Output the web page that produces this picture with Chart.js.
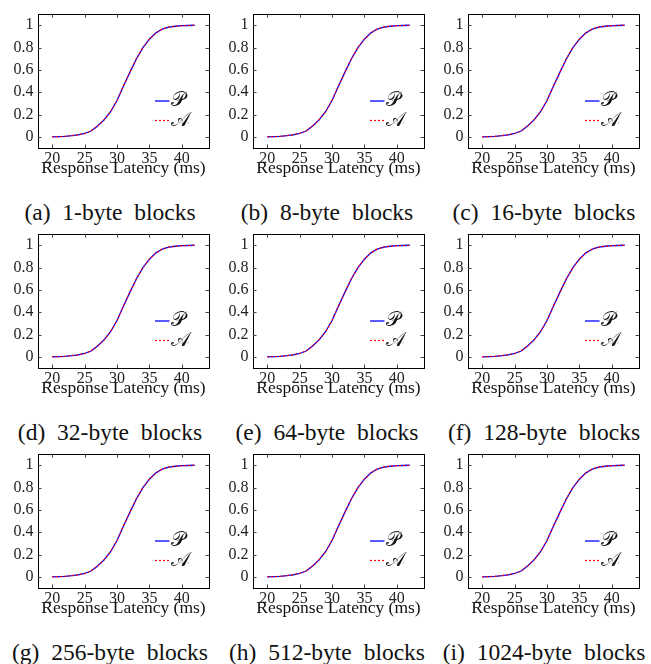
<!DOCTYPE html>
<html>
<head>
<meta charset="utf-8">
<script src="https://cdn.jsdelivr.net/npm/chart.js@4/dist/chart.umd.min.js"></script>
<style>
  html, body { margin: 0; padding: 0; background: #ffffff; }
  #page { position: relative; width: 651px; height: 664px; overflow: hidden; background: #fff; }
  canvas { position: absolute; }
  .cap { position: absolute; width: 220px; text-align: center; font-family: "Liberation Serif", "DejaVu Serif", serif;
         font-size: 23.5px; line-height: 23px; word-spacing: 6px; color: #111; white-space: nowrap; }
</style>
</head>
<body>
<div id="page"></div>
<script>
// ---- data ----
const latencyMs = [20, 21, 22, 23, 24, 25, 26, 27, 28, 29, 30, 31, 32, 33, 34, 35, 36, 37, 38, 39, 40, 41, 42];
const cdfP = [0.000, 0.002, 0.005, 0.010, 0.018, 0.030, 0.052, 0.097, 0.152, 0.225, 0.325, 0.455, 0.580, 0.700, 0.800, 0.875, 0.932, 0.966, 0.984, 0.991, 0.996, 0.998, 1.000];
const cdfA = [0.000, 0.002, 0.005, 0.010, 0.018, 0.030, 0.053, 0.097, 0.153, 0.225, 0.326, 0.455, 0.581, 0.700, 0.800, 0.876, 0.932, 0.966, 0.984, 0.991, 0.996, 0.998, 1.000];
const panelLetters = ['a', 'b', 'c', 'd', 'e', 'f', 'g', 'h', 'i'];
const blockSizes = [1, 8, 16, 32, 64, 128, 256, 512, 1024];
const seriesLabels = ['\u{1D4AB}', '\u{1D49C}'];
const xTickValues = [20, 25, 30, 35, 40];
const yTickValues = [0, 0.2, 0.4, 0.6, 0.8, 1];
const yTickLabels = ['0', '0.2', '0.4', '0.6', '0.8', '1'];
const xTitle = 'Response Latency (ms)';

// ---- styling / layout ----
const SERIF = '"Liberation Serif", "DejaVu Serif", serif';
const COL_STEP = 215, ROW_STEP = 220;
const CAN_W = 215, CAN_H = 185;

const framePlugin = {
  id: 'frameTicks',
  afterDraw(chart) {
    const { ctx, chartArea: a, scales } = chart;
    ctx.save();
    ctx.strokeStyle = '#000';
    ctx.lineWidth = 1;
    ctx.strokeRect(Math.round(a.left) + 0.5, Math.round(a.top) + 0.5, Math.round(a.right - a.left), Math.round(a.bottom - a.top));
    const L = 3.5;
    ctx.beginPath();
    scales.x.ticks.forEach(t => {
      const px = Math.round(scales.x.getPixelForValue(t.value)) + 0.5;
      ctx.moveTo(px, a.bottom); ctx.lineTo(px, a.bottom - L);
      ctx.moveTo(px, a.top); ctx.lineTo(px, a.top + L);
    });
    scales.y.ticks.forEach(t => {
      const py = Math.round(scales.y.getPixelForValue(t.value)) + 0.5;
      ctx.moveTo(a.left, py); ctx.lineTo(a.left + L, py);
      ctx.moveTo(a.right, py); ctx.lineTo(a.right - L, py);
    });
    ctx.strokeStyle = '#444';
    ctx.stroke();
    // legend inside plot area, lower right
    const rows = [47, 27.5];
    chart.data.datasets.forEach((ds, i) => {
      const y = a.bottom - rows[i];
      ctx.beginPath();
      ctx.setLineDash(ds.borderDash || []);
      ctx.strokeStyle = ds.borderColor;
      ctx.lineWidth = ds.borderWidth;
      ctx.moveTo(a.right - 54, y);
      ctx.lineTo(a.right - 39.5, y);
      ctx.stroke();
      ctx.setLineDash([]);
      ctx.fillStyle = '#111';
      ctx.font = '20px "DejaVu Serif", "DejaVu Sans", serif';
      ctx.textBaseline = 'middle';
      ctx.textAlign = 'left';
      ctx.fillText(ds.label, a.right - 38.5, y);
    });
    ctx.restore();
  }
};

const page = document.getElementById('page');
panelLetters.forEach((letter, k) => {
  const col = k % 3, row = Math.floor(k / 3);
  const cv = document.createElement('canvas');
  cv.width = CAN_W; cv.height = CAN_H;
  cv.style.left = (col * COL_STEP) + 'px';
  cv.style.top = (row * ROW_STEP) + 'px';
  cv.style.width = CAN_W + 'px'; cv.style.height = CAN_H + 'px';
  page.appendChild(cv);

  const cap = document.createElement('div');
  cap.className = 'cap';
  cap.style.left = (col * 217) + 'px';
  cap.style.top = (row * ROW_STEP + 201) + 'px';
  cap.textContent = '(' + letter + ') ' + blockSizes[k] + '-byte blocks';
  page.appendChild(cap);

  new Chart(cv, {
    type: 'line',
    data: {
      datasets: [
        { label: seriesLabels[0], data: latencyMs.map((x, i) => ({ x, y: cdfP[i] })), order: 1,
          borderColor: '#0000ff', borderWidth: 1.3, pointRadius: 0, tension: 0, fill: false },
        { label: seriesLabels[1], data: latencyMs.map((x, i) => ({ x, y: cdfA[i] })), order: 0,
          borderColor: '#ff0000', borderWidth: 1.2, borderDash: [2, 2], pointRadius: 0, tension: 0, fill: false }
      ]
    },
    options: {
      responsive: false,
      animation: false,
      devicePixelRatio: 1,
      layout: { padding: { top: 6, right: 6, left: 0, bottom: 0 } },
      plugins: { legend: { display: false }, tooltip: { enabled: false } },
      scales: {
        x: {
          type: 'linear', min: 17.8, max: 44.2,
          afterBuildTicks: s => { s.ticks = xTickValues.map(v => ({ value: v })); },
          afterFit: s => { s.height = 37; },
          grid: { display: false, drawTicks: false },
          border: { display: false },
          ticks: { padding: 1, color: '#222', font: { family: SERIF, size: 16 }, maxRotation: 0, autoSkip: false,
                   callback: v => String(v) },
          title: { display: true, text: xTitle, color: '#111', font: { family: SERIF, size: 17.5 }, padding: { top: 0, bottom: 6 } }
        },
        y: {
          type: 'linear', min: -0.1, max: 1.1,
          afterBuildTicks: s => { s.ticks = yTickValues.map(v => ({ value: v })); },
          afterFit: s => { s.width = 38; },
          grid: { display: false, drawTicks: false },
          border: { display: false },
          ticks: { padding: 4.5, color: '#222', font: { family: SERIF, size: 16 }, autoSkip: false,
                   callback: (v, i) => yTickLabels[i] }
        }
      }
    },
    plugins: [framePlugin]
  });
});
</script>
</body>
</html>
